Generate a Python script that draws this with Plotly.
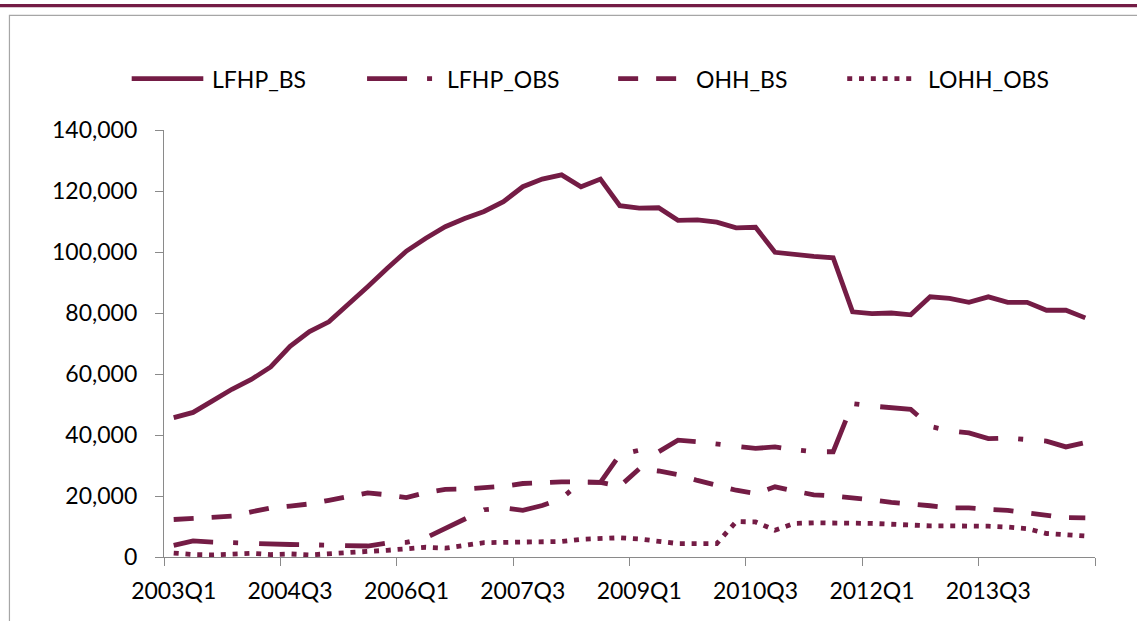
import plotly.graph_objects as go

quarters = [
    "2003Q1", "2003Q2", "2003Q3", "2003Q4", "2004Q1", "2004Q2", "2004Q3", "2004Q4",
    "2005Q1", "2005Q2", "2005Q3", "2005Q4", "2006Q1", "2006Q2", "2006Q3", "2006Q4",
    "2007Q1", "2007Q2", "2007Q3", "2007Q4", "2008Q1", "2008Q2", "2008Q3", "2008Q4",
    "2009Q1", "2009Q2", "2009Q3", "2009Q4", "2010Q1", "2010Q2", "2010Q3", "2010Q4",
    "2011Q1", "2011Q2", "2011Q3", "2011Q4", "2012Q1", "2012Q2", "2012Q3", "2012Q4",
    "2013Q1", "2013Q2", "2013Q3", "2013Q4", "2014Q1", "2014Q2", "2014Q3", "2014Q4",
]

lfhp_bs = [
    45700, 47400, 51200, 55000, 58200, 62300, 69100, 73900, 77100, 82600, 88600, 94600,
    100300, 104500, 108300, 111000, 113300, 116500, 121400, 123900, 125300, 121400, 123900, 115200,
    114400, 114500, 110400, 110500, 109800, 107900, 108100, 99900, 99100, 98600, 98100, 80400,
    79800, 80000, 79400, 85300, 84800, 83500, 85300, 83500, 83500, 80900, 80900, 78400,
]
lfhp_obs = [
    3800, 5300, 4900, 4600, 4400, 4300, 4100, 4000, 3900, 3600, 3600, 4600,
    4800, 6300, 9400, 12600, 15500, 16100, 15300, 16900, 19200, 24600, 24500, 33500,
    35000, 34500, 38300, 37800, 37200, 36300, 35600, 36100, 35200, 34500, 34500, 50300,
    49500, 49000, 48400, 42800, 41400, 40700, 38800, 39000, 38600, 38000, 36100, 37500,
]
ohh_bs = [
    12300, 12700, 13100, 13400, 14800, 16100, 16700, 17400, 18600, 19900, 21000, 20400,
    19500, 21100, 22200, 22300, 22700, 23200, 24100, 24500, 24600, 24600, 24500, 23200,
    28900, 28200, 27000, 25100, 23300, 21900, 20800, 23000, 21600, 20400, 20000, 19500,
    18700, 17900, 17500, 16800, 16100, 16100, 15600, 15300, 14500, 13700, 12900, 12800,
]
lohh_obs = [
    1300, 800, 700, 1000, 1200, 800, 1000, 700, 1000, 1500, 1900, 2200,
    2700, 3200, 2900, 3900, 4700, 4800, 4900, 5000, 5100, 5800, 5900, 6300,
    5900, 5200, 4400, 4400, 4400, 11600, 11500, 8800, 11000, 11200, 11300, 11100,
    11000, 10700, 10600, 10200, 10200, 10200, 10100, 9800, 9300, 7700, 7400, 6900,
]

series_names = ["LFHP_BS", "LFHP_OBS", "OHH_BS", "LOHH_OBS"]
series_values = [lfhp_bs, lfhp_obs, ohh_bs, lohh_obs]
series_dash = ["solid", "40px,20px,5px,21px", "20px,18px", "5px,6.8px"]

y_ticks = [0, 20000, 40000, 60000, 80000, 100000, 120000, 140000]

MAROON = "#741c45"
AXIS = "#8a8a8a"
FONT = "Lato, 'Open Sans', sans-serif"

W, H = 1137, 621
PL, PR, PT, PB = 164, 1094.7, 130, 556.7

def px_x(px):
    return (px - PL) / (PR - PL)

def px_y(py):
    return (PB - py) / (PB - PT)

xs = list(range(len(quarters)))

fig = go.Figure()
for name, vals, dash in zip(series_names, series_values, series_dash):
    fig.add_trace(go.Scatter(
        x=xs, y=vals, name=name, mode="lines",
        line=dict(color=MAROON, width=4.8, dash=dash),
        showlegend=False,
        hovertemplate="%{text}: %{y:,}<extra>" + name + "</extra>",
        text=quarters,
    ))

shapes = []
# top maroon rule
shapes.append(dict(type="line", xref="paper", yref="paper",
                   x0=px_x(-10), x1=px_x(W + 10), y0=px_y(5.7), y1=px_y(5.7),
                   line=dict(color=MAROON, width=3.3)))
# chart frame
shapes.append(dict(type="rect", xref="paper", yref="paper",
                   x0=px_x(9.5), x1=px_x(W + 30), y0=px_y(15.5), y1=px_y(H + 30),
                   line=dict(color="#a6a6a6", width=1.2)))

# legend drawn manually to match sample lengths
legend_y = px_y(78.7)
legend_items = [
    (131.7, 203.3, 209.6),
    (367.0, 437.0, 445.0),
    (618.0, 677.0, 693.8),
    (847.0, 911.0, 925.8),
]
annotations = []
for (sx0, sx1, tx), name, dash in zip(legend_items, series_names, series_dash):
    shapes.append(dict(type="line", xref="paper", yref="paper",
                       x0=px_x(sx0), x1=px_x(sx1), y0=legend_y, y1=legend_y,
                       line=dict(color=MAROON, width=4.8, dash=dash)))
    annotations.append(dict(xref="paper", yref="paper", x=px_x(tx), y=legend_y,
                            text=name, showarrow=False, xanchor="left", yanchor="middle",
                            font=dict(family=FONT, size=23, color="#000000")))

fig.update_layout(
    width=W, height=H, autosize=False,
    margin=dict(l=PL, r=W - PR, t=PT, b=H - PB, pad=0),
    paper_bgcolor="white", plot_bgcolor="white",
    font=dict(family=FONT, size=23, color="#000000"),
    shapes=shapes, annotations=annotations,
    showlegend=False,
)
fig.update_xaxes(
    range=[-0.5, len(quarters) - 0.5],
    tickmode="array", tickvals=xs[::6], ticktext=quarters[::6],
    ticks="", showline=True, linecolor=AXIS, linewidth=1.3,
    showgrid=False, zeroline=False, ticklabelstandoff=13,
    tickfont=dict(family=FONT, size=23, color="#000000"),
    minor=dict(tickmode="array", tickvals=[v - 0.5 for v in xs[::6]] + [len(quarters) - 0.5],
               ticks="outside", ticklen=8, tickcolor=AXIS, tickwidth=1.3, showgrid=False),
)
fig.update_yaxes(
    range=[0, 140000], tickmode="array", tickvals=y_ticks,
    tickformat=",d", ticks="outside", ticklen=8, tickcolor=AXIS, tickwidth=1.3,
    showline=True, linecolor=AXIS, linewidth=1.3,
    showgrid=False, zeroline=False, ticklabelstandoff=13,
    tickfont=dict(family=FONT, size=23, color="#000000"),
)

fig.write_html("out.html", config={"displayModeBar": False},
               post_script="document.body.style.margin='0px';document.body.style.overflow='hidden';")
